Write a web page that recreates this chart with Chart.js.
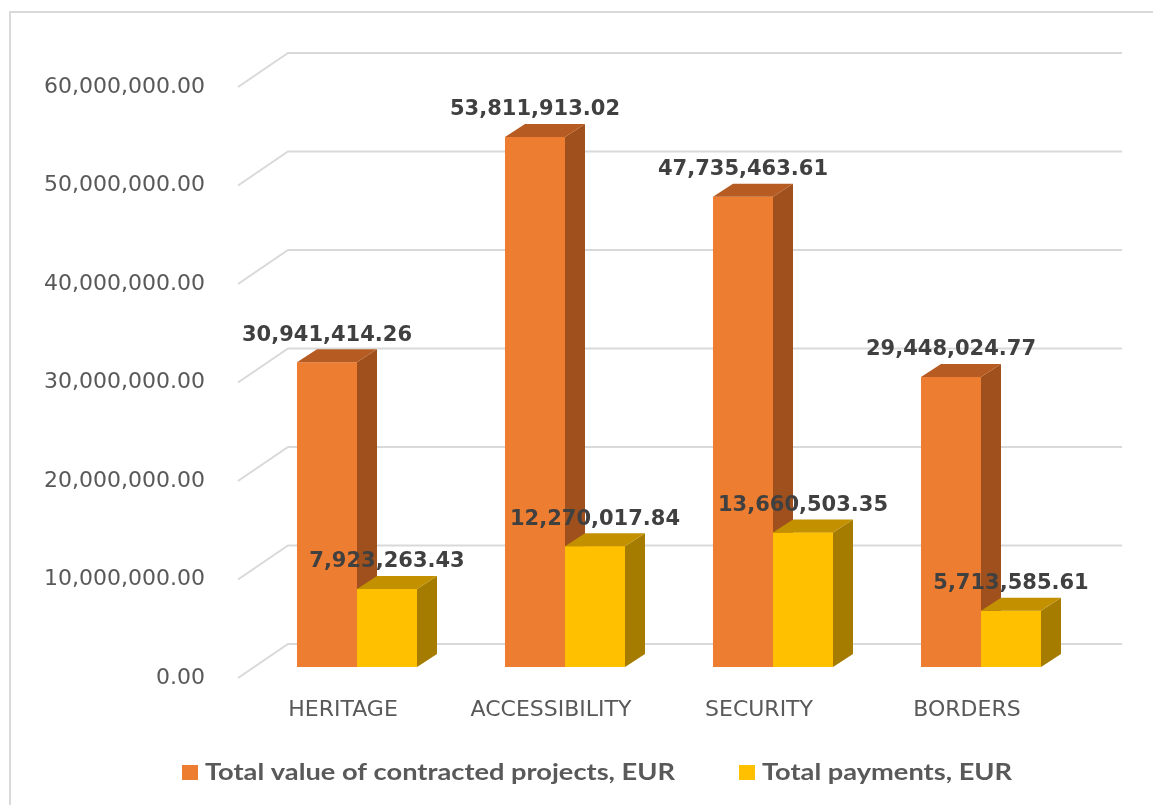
<!DOCTYPE html>
<html>
<head>
<meta charset="utf-8">
<script src="https://cdn.jsdelivr.net/npm/chart.js@4.4.1/dist/chart.umd.min.js"></script>
<style>
  html, body { margin: 0; padding: 0; background: #fff; }
  #wrap { width: 1153px; height: 805px; position: relative; }
</style>
</head>
<body>
<div id="wrap"><canvas id="grafico"></canvas></div>
<script>
// Datos del gráfico
const categorias = ['HERITAGE', 'ACCESSIBILITY', 'SECURITY', 'BORDERS'];
const valorContratado = [30941414.26, 53811913.02, 47735463.61, 29448024.77];
const pagosTotales = [7923263.43, 12270017.84, 13660503.35, 5713585.61];
const nombresSeries = ['Total value of contracted projects, EUR', 'Total payments, EUR'];

// Colores de las caras (frontal, lateral, superior)
const coloresNaranja = { frente: '#ED7D31', lado: '#9F501D', arriba: '#B65C22' };
const coloresAmarillo = { frente: '#FFC000', lado: '#A57C00', arriba: '#C39100' };

const profX = 20, profY = -13;         // profundidad de las barras
const fondoX = 50, fondoY = -34;       // pared del fondo respecto al frente
const frenteDesp = 11;                 // plano de los ejes respecto al plano de las barras

function formato(v) {
    return v.toLocaleString('en-US', { minimumFractionDigits: 2, maximumFractionDigits: 2 });
}

// Dibuja las caras de una barra (frontal opcional, lateral y superior)
function dibujarCaras(ctx, bar, col, conFrente) {
    const izq = bar.x - bar.width / 2;
    const der = bar.x + bar.width / 2;
    const top = bar.y, base = bar.base;
    if (conFrente) {
        ctx.fillStyle = col.frente;
        ctx.fillRect(izq, top, der - izq, base - top);
    }
    ctx.fillStyle = col.lado;
    ctx.beginPath();
    ctx.moveTo(der, top);
    ctx.lineTo(der + profX, top + profY);
    ctx.lineTo(der + profX, base + profY);
    ctx.lineTo(der, base);
    ctx.closePath();
    ctx.fill();
    ctx.fillStyle = col.arriba;
    ctx.beginPath();
    ctx.moveTo(izq, top);
    ctx.lineTo(izq + profX, top + profY);
    ctx.lineTo(der + profX, top + profY);
    ctx.lineTo(der, top);
    ctx.closePath();
    ctx.fill();
}

// Plugin: marco, rejilla en perspectiva, caras 3D, etiquetas y leyenda
const plugin3D = {
    id: 'barras3d',
    beforeDraw(chart) {
        const ctx = chart.ctx;
        ctx.save();
        ctx.strokeStyle = '#d9d9d9';
        ctx.lineWidth = 2;
        ctx.strokeRect(10, 12, 1170, 830);
        ctx.restore();
    },
    beforeDatasetsDraw(chart) {
        const ctx = chart.ctx;
        const y = chart.scales.y;
        const xFrente = chart.chartArea.left - 15;
        const xFin = chart.chartArea.right + 37;
        ctx.save();
        ctx.strokeStyle = '#d9d9d9';
        ctx.lineWidth = 2;
        y.ticks.forEach(t => {
            const pf = y.getPixelForValue(t.value) + frenteDesp;
            ctx.beginPath();
            ctx.moveTo(xFrente, pf);
            ctx.lineTo(xFrente + fondoX, pf + fondoY);
            ctx.lineTo(xFin, pf + fondoY);
            ctx.stroke();
        });
        ctx.restore();
    },
    afterDatasetsDraw(chart) {
        const ctx = chart.ctx;
        ctx.save();
        // primero el naranja (lateral y superior), luego el amarillo completo encima
        chart.getDatasetMeta(0).data.forEach(bar => dibujarCaras(ctx, bar, coloresNaranja, false));
        chart.getDatasetMeta(1).data.forEach(bar => dibujarCaras(ctx, bar, coloresAmarillo, true));
        ctx.restore();
    },
    afterDraw(chart) {
        const ctx = chart.ctx;
        ctx.save();
        // etiquetas de datos
        ctx.font = 'bold 21px "DejaVu Sans"';
        ctx.fillStyle = '#404040';
        ctx.textAlign = 'center';
        ctx.textBaseline = 'middle';
        chart.data.datasets.forEach((ds, i) => {
            chart.getDatasetMeta(i).data.forEach((bar, j) => {
                ctx.fillText(formato(ds.data[j]), bar.x, bar.y - 27);
            });
        });
        // leyenda (texto ajustado en horizontal al ancho del original)
        ctx.font = 'bold 22px Lato';
        ctx.textAlign = 'left';
        const ancho0 = ctx.measureText(chart.data.datasets[0].label).width;
        const escala = 470 / ancho0;
        let x = 182;
        const yLey = 772;
        chart.data.datasets.forEach(ds => {
            ctx.fillStyle = ds.backgroundColor;
            ctx.fillRect(x, yLey - 7, 16, 15);
            ctx.fillStyle = '#595959';
            const w = ctx.measureText(ds.label).width * escala;
            ctx.save();
            ctx.translate(x + 23, yLey + 1);
            ctx.scale(escala, 1);
            ctx.fillText(ds.label, 0, 0);
            ctx.restore();
            x += 23 + w + 64;
        });
        ctx.restore();
    }
};

const ctx = document.getElementById('grafico').getContext('2d');
new Chart(ctx, {
    type: 'bar',
    data: {
        labels: categorias,
        datasets: [
            {
                label: nombresSeries[0],
                data: valorContratado,
                backgroundColor: coloresNaranja.frente
            },
            {
                label: nombresSeries[1],
                data: pagosTotales,
                backgroundColor: coloresAmarillo.frente
            }
        ]
    },
    options: {
        responsive: true,
        maintainAspectRatio: false,
        animation: false,
        categoryPercentage: 0.577,
        barPercentage: 1,
        layout: { padding: { left: 0, right: 68, top: 76, bottom: 0 } },
        plugins: {
            legend: { display: false },
            tooltip: { enabled: false }
        },
        scales: {
            x: {
                grid: { display: false, drawTicks: false },
                border: { display: false },
                ticks: {
                    color: '#595959',
                    font: { family: 'DejaVu Sans', size: 22 },
                    padding: 30,
                    labelOffset: -14,
                    maxRotation: 0
                },
                afterFit(scale) { scale.height = 138; }
            },
            y: {
                min: 0,
                max: 60000000,
                grid: { display: false, drawTicks: false },
                border: { display: false },
                ticks: {
                    stepSize: 10000000,
                    color: '#595959',
                    font: { family: 'DejaVu Sans', size: 22 },
                    padding: 48,
                    labelOffset: frenteDesp,
                    callback: v => formato(v)
                },
                afterFit(scale) { scale.width = 253; }
            }
        }
    },
    plugins: [plugin3D]
});
</script>
</body>
</html>
